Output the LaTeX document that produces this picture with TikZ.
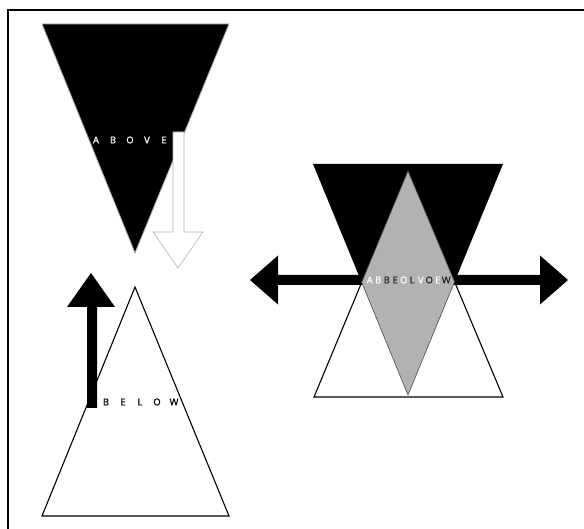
\documentclass[tikz,border=0pt]{standalone}
\usepackage{fontspec}
\setmainfont{Open Sans}
\newfontfamily\lblfont[FakeBold=1.2]{Open Sans}
\newcommand{\lbw}[1]{\makebox[17pt]{#1}}
\newcommand{\lbn}[1]{\makebox[8.5pt]{#1}}
\begin{document}
\begin{tikzpicture}[x=1pt,y=-1pt,
  lbl/.style={inner sep=0pt,font=\lblfont\fontsize{9.5}{10}\selectfont},
  darktri/.style={fill=black,draw=gray!60,line width=0.8pt,line join=miter},
  lighttri/.style={fill=white,draw=black,line width=1.1pt,line join=miter},
  hollowarrow/.style={fill=white,draw=gray!60,line width=0.6pt},
  solidarrow/.style={fill=black}]
\useasboundingbox (0,0) rectangle (584,529);
\fill[white] (0,0) rectangle (584,529);
\draw[line width=2pt] (8,529) -- (8,10) -- (584,10);

% --- top-left: ABOVE
\coordinate (a1) at (42,24); \coordinate (a2) at (229,24); \coordinate (a3) at (135,253);
\draw[darktri] (a1) -- (a2) -- (a3) -- cycle;
\draw[hollowarrow] (173,132) -- (184,132) -- (184,232) -- (203,232) -- (178,268)
  -- (153,232) -- (173,232) -- cycle;
\node[lbl,text=white] (above) at (130,140) {\lbw{A}\lbw{B}\lbw{O}\lbw{V}\lbw{E}};

% --- bottom-left: BELOW
\coordinate (b1) at (42,516); \coordinate (b2) at (229,516); \coordinate (b3) at (135,287);
\draw[lighttri] (b1) -- (b2) -- (b3) -- cycle;
\fill[solidarrow] (87,408) -- (97,408) -- (97,307) -- (115,307) -- (91,273)
  -- (67,307) -- (87,307) -- cycle;
\node[lbl,text=black] (below) at (140,402) {\lbw{B}\lbw{E}\lbw{L}\lbw{O}\lbw{W}};

% --- right: combined
\coordinate (ti1) at (313,164); \coordinate (ti2) at (503,164); \coordinate (ti3) at (408,395);
\coordinate (tu1) at (314,397); \coordinate (tu2) at (503,397); \coordinate (tu3) at (408,171);
\fill[black] (ti1) -- (ti2) -- (ti3) -- cycle;
\draw[lighttri] (tu1) -- (tu2) -- (tu3) -- cycle;
\fill[solidarrow] (250,280) -- (278,255.5) -- (278,275) -- (540,275) -- (540,255.5)
  -- (568,280) -- (540,304.5) -- (540,285) -- (278,285) -- (278,304.5) -- cycle;
\coordinate (dl) at (intersection of ti1--ti3 and tu1--tu3);
\coordinate (dr) at (intersection of ti2--ti3 and tu2--tu3);
\draw[fill=gray!60,draw=black!70,line width=0.6pt] (tu3) -- (dr) -- (ti3) -- (dl) -- cycle;
\node[lbl,text=white] (aboveM) at (408,280)
  {\lbn{A}\lbn{B}\lbn{}\lbn{}\lbn{O}\lbn{}\lbn{V}\lbn{}\lbn{E}\lbn{}};
\node[lbl,text=black!85] (belowM) at (408,280)
  {\lbn{}\lbn{}\lbn{B}\lbn{E}\lbn{}\lbn{L}\lbn{}\lbn{O}\lbn{}\lbn{W}};
\end{tikzpicture}
\end{document}
